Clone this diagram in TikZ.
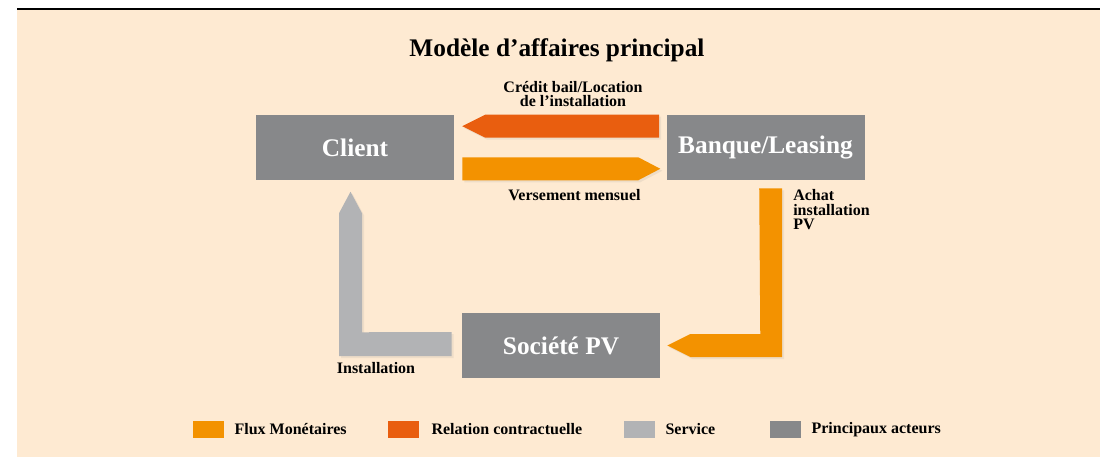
\documentclass[tikz,border=0pt]{standalone}
\usepackage{fontspec}
\setmainfont{Liberation Serif}
\usetikzlibrary{positioning,calc,shadows}
\definecolor{bgbeige}{HTML}{FEEAD2}
\definecolor{money}{HTML}{F39200}
\definecolor{contract}{HTML}{E95E0F}
\definecolor{servicegray}{HTML}{B2B3B5}
\definecolor{actorgray}{HTML}{87888A}

\begin{document}
\begin{tikzpicture}[x=0.75pt,y=-0.75pt,
  actor/.style={fill=actorgray,text=white,minimum width=148.5pt,minimum height=48.75pt,
    inner sep=0pt,font=\fontsize{19}{22}\selectfont\bfseries},
  flow/.style={drop shadow={opacity=0.12,shadow xshift=1.5pt,shadow yshift=-1.5pt}},
  lbl/.style={font=\fontsize{12}{11}\selectfont\bfseries,inner sep=0pt},
  key/.style={minimum width=23.25pt,minimum height=12.75pt,inner sep=0pt}]
\useasboundingbox (0,0) rectangle (1100,457);
\fill[bgbeige] (17,10.3) rectangle (1100,457);
\draw[line width=1.9pt] (17,9) -- (1100,9);

\node[font=\fontsize{19}{22}\selectfont\bfseries] (title) at (557,50) {Modèle d’affaires principal};

\node[actor] (client) at (355,147.5) {Client};
\node[actor] (bank) at (765.5,147.5) {Banque/Leasing};
\node[actor] (pvco) at (561,345.5) {Société PV};

\fill[contract,flow] ($(bank.north west)+(-7,0)$) -- ++(-174,0) -- ++(-23,11.5) -- ++(23,11.5) -- ++(174,0) -- cycle;
\fill[money,flow] ($(client.south east)+(8,0)$) -- ++(176,0) -- ++(22,-11.5) -- ++(-22,-11.5) -- ++(-176,0) -- cycle;
\fill[money,flow] ($(bank.south west)+(93,8)$) -- ++(23,0) |- ($(pvco.east)+(30,11.5)$) -- ++(-23,-11.5) -- ++(23,-11.5) -- ++(70,0) -- cycle;
\fill[servicegray,flow] ($(pvco.west)+(-10,-13.5)$) -- ++(0,24) -| ($(client.south)+(-16,33)$) -- ++(11.5,-21.5) -- ++(11.5,21.5) -- ++(0,119) -- cycle;

\node[lbl,align=center] (lcontract) at (573,94) {Crédit bail/Location\\de l’installation};
\node[lbl] (lmonthly) at (574.5,195) {Versement mensuel};
\node[lbl,align=left,anchor=north west] (lpurchase) at (793,189) {Achat\\installation\\PV};
\node[lbl] (linstall) at (376,368) {Installation};

\node[key,fill=money] (kmoney) at (208.5,429.5) {};
\node[lbl,right=7.5pt of kmoney] (tmoney) {Flux Monétaires};
\node[key,fill=contract] (kcontract) at (403.5,429.5) {};
\node[lbl,right=9pt of kcontract] (tcontract) {Relation contractuelle};
\node[key,fill=servicegray] (kservice) at (639.5,429.5) {};
\node[lbl,right=7.5pt of kservice] (tservice) {Service};
\node[key,fill=actorgray] (kactor) at (785.5,429.5) {};
\node[lbl,right=7.5pt of kactor] (tactor) {Principaux acteurs};
\end{tikzpicture}
\end{document}
